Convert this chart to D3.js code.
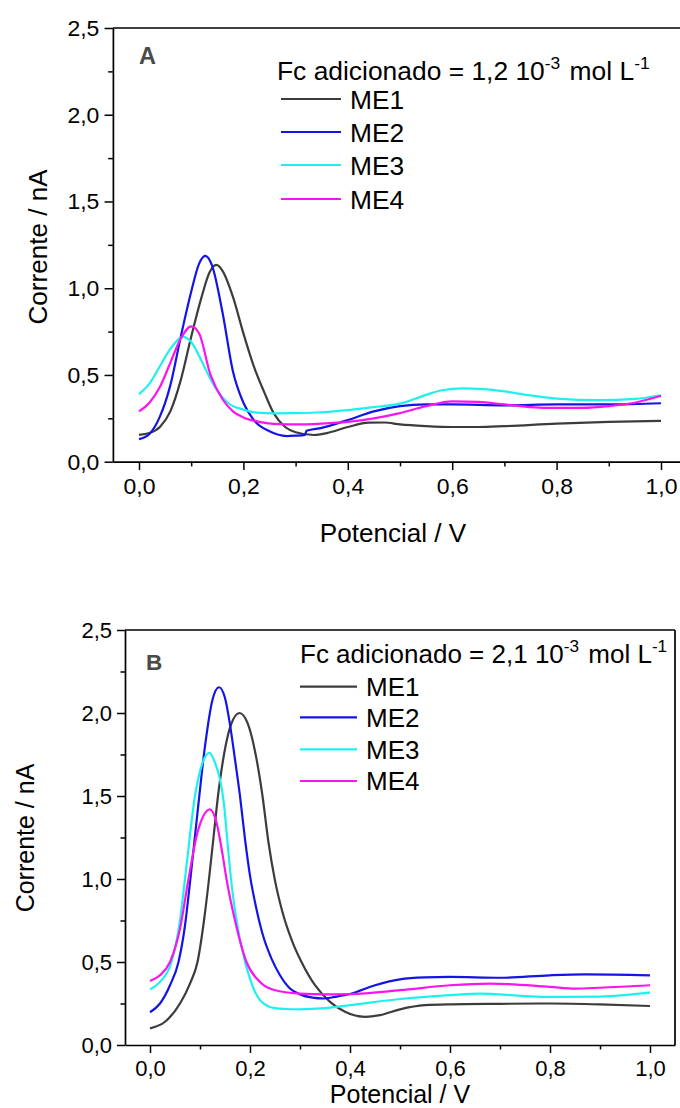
<!DOCTYPE html>
<html><head><meta charset="utf-8">
<script src="https://cdn.jsdelivr.net/npm/d3@7"></script>
<style>
body{margin:0;background:#fff}
svg{display:block}
text{font-family:"Liberation Sans",Arial,Helvetica,sans-serif;fill:#000}
</style>
</head><body>
<svg id="chart" width="680" height="1108"></svg>
<script>
// ---------------- data ----------------
const seriesNames = ["ME1", "ME2", "ME3", "ME4"];
const seriesColors = ["#3c3c3c", "#1414e6", "#1ef0f0", "#fa14f0"];
const xTickValues = [0, 0.2, 0.4, 0.6, 0.8, 1.0];
const xMinorTickValues = [0.1, 0.3, 0.5, 0.7, 0.9];
const yTickValues = [0, 0.5, 1.0, 1.5, 2.0, 2.5];
const yMinorTickValues = [0.25, 0.75, 1.25, 1.75, 2.25];
const panelLetters = ["A", "B"];
const concentrations = ["1,2", "2,1"];
const xTitle = "Potencial / V";
const yTitle = "Corrente / nA";

// Panel A: [potential V, current nA]
const A_ME1 = [[0,0.155],[0.02,0.165],[0.04,0.2],[0.06,0.29],[0.08,0.47],[0.1,0.72],[0.12,0.95],[0.135,1.09],[0.148,1.134],[0.16,1.1],[0.18,0.95],[0.2,0.74],[0.22,0.55],[0.24,0.4],[0.258,0.28],[0.28,0.2],[0.3,0.17],[0.335,0.154],[0.36,0.165],[0.4,0.2],[0.44,0.225],[0.47,0.226],[0.5,0.215],[0.55,0.205],[0.6,0.2],[0.65,0.2],[0.7,0.205],[0.8,0.22],[0.9,0.23],[1.0,0.235]];
const A_ME2 = [[0,0.13],[0.02,0.16],[0.04,0.26],[0.06,0.44],[0.08,0.72],[0.1,0.98],[0.115,1.14],[0.127,1.186],[0.14,1.13],[0.16,0.86],[0.18,0.52],[0.2,0.34],[0.22,0.24],[0.25,0.175],[0.283,0.148],[0.3,0.15],[0.318,0.155],[0.321,0.178],[0.35,0.195],[0.4,0.24],[0.45,0.29],[0.5,0.32],[0.55,0.33],[0.6,0.33],[0.7,0.325],[0.8,0.33],[0.9,0.33],[1.0,0.337]];
const A_ME3 = [[0,0.39],[0.02,0.45],[0.04,0.55],[0.06,0.65],[0.085,0.72],[0.1,0.69],[0.12,0.58],[0.133,0.5],[0.15,0.41],[0.17,0.34],[0.2,0.3],[0.22,0.285],[0.26,0.279],[0.3,0.28],[0.35,0.285],[0.386,0.294],[0.45,0.315],[0.5,0.335],[0.55,0.385],[0.58,0.412],[0.62,0.423],[0.66,0.418],[0.7,0.405],[0.75,0.382],[0.8,0.364],[0.88,0.355],[0.95,0.362],[1.0,0.383]];
const A_ME4 = [[0,0.29],[0.02,0.34],[0.04,0.43],[0.06,0.57],[0.08,0.71],[0.1,0.78],[0.115,0.74],[0.137,0.5],[0.16,0.36],[0.18,0.29],[0.2,0.255],[0.23,0.23],[0.27,0.217],[0.3,0.215],[0.35,0.22],[0.4,0.23],[0.45,0.25],[0.5,0.28],[0.55,0.32],[0.6,0.348],[0.65,0.345],[0.7,0.33],[0.75,0.315],[0.8,0.31],[0.85,0.31],[0.9,0.32],[0.95,0.34],[1.0,0.38]];

// Panel B
const B_ME1 = [[0,0.1],[0.03,0.14],[0.06,0.25],[0.08,0.37],[0.095,0.5],[0.108,0.75],[0.118,1.0],[0.127,1.25],[0.136,1.5],[0.148,1.75],[0.162,1.93],[0.179,2.0],[0.195,1.94],[0.21,1.77],[0.225,1.5],[0.237,1.22],[0.25,0.99],[0.265,0.8],[0.285,0.62],[0.303,0.5],[0.33,0.36],[0.36,0.26],[0.39,0.2],[0.43,0.17],[0.46,0.18],[0.5,0.215],[0.55,0.24],[0.6,0.245],[0.7,0.248],[0.8,0.25],[0.9,0.245],[1.0,0.235]];
const B_ME2 = [[0,0.197],[0.02,0.25],[0.04,0.36],[0.057,0.5],[0.07,0.72],[0.08,0.98],[0.095,1.4],[0.11,1.8],[0.125,2.08],[0.138,2.155],[0.15,2.09],[0.16,1.93],[0.17,1.72],[0.18,1.5],[0.19,1.24],[0.2,1.02],[0.21,0.86],[0.225,0.67],[0.243,0.52],[0.26,0.42],[0.28,0.34],[0.3,0.305],[0.325,0.285],[0.347,0.28],[0.37,0.29],[0.4,0.307],[0.45,0.36],[0.5,0.395],[0.55,0.407],[0.6,0.41],[0.7,0.405],[0.8,0.42],[0.87,0.425],[1.0,0.42]];
const B_ME3 = [[0,0.335],[0.02,0.38],[0.043,0.5],[0.06,0.75],[0.07,1.0],[0.09,1.5],[0.105,1.7],[0.119,1.76],[0.13,1.7],[0.14,1.6],[0.148,1.45],[0.155,1.22],[0.162,1.0],[0.172,0.77],[0.19,0.5],[0.2,0.4],[0.21,0.32],[0.22,0.27],[0.235,0.235],[0.25,0.222],[0.27,0.217],[0.3,0.215],[0.35,0.222],[0.4,0.24],[0.5,0.277],[0.6,0.3],[0.66,0.31],[0.75,0.295],[0.8,0.29],[0.9,0.292],[1.0,0.315]];
const B_ME4 = [[0,0.386],[0.02,0.42],[0.04,0.5],[0.06,0.7],[0.077,1.0],[0.095,1.28],[0.12,1.42],[0.133,1.34],[0.145,1.15],[0.153,1.0],[0.17,0.75],[0.193,0.5],[0.22,0.38],[0.25,0.33],[0.3,0.31],[0.35,0.305],[0.4,0.307],[0.5,0.33],[0.6,0.36],[0.68,0.37],[0.8,0.35],[0.85,0.34],[0.9,0.345],[1.0,0.36]];

const panelSeries = [[A_ME1, A_ME2, A_ME3, A_ME4], [B_ME1, B_ME2, B_ME3, B_ME4]];

// ---------------- layout ----------------
const panels = [
  {xr:[112.9, 687.1], yr:[461.7, 28], s:1.044, ylabX:47, ylabY:247, xlabX:393, xlabY:542,
   letterX:139, letterY:64, legX:277, legY:80, lineX1:281, lineX2:341, textX:350, rowY:[99,132,165,199], legFont:26.4, frameRight:false},
  {xr:[125, 675], yr:[1045, 630], s:1.0, ylabX:34, ylabY:838, xlabX:400, xlabY:1103,
   letterX:146, letterY:670, legX:300, legY:663, lineX1:300, lineX2:357, textX:366, rowY:[686.7,717.3,749.3,781], legFont:26, frameRight:true}
];

const svg = d3.select("#chart");
const fmt = d => d3.format(".1f")(d).replace(".", ",");

panels.forEach((P, pi) => {
  const s = P.s;
  const x = d3.scaleLinear().domain([-0.05, 1.05]).range(P.xr);
  const y = d3.scaleLinear().domain([0, 2.5]).range(P.yr);
  const g = svg.append("g");
  const tickFont = 22 * s;

  // bottom axis
  const bx = g.append("g").attr("transform", `translate(0,${P.yr[0]})`)
    .call(d3.axisBottom(x).tickValues(xTickValues).tickSize(8*s).tickSizeOuter(0).tickPadding(7.5*s).tickFormat(fmt));
  bx.append("g").call(d3.axisBottom(x).tickValues(xMinorTickValues).tickSize(4.5*s).tickSizeOuter(0).tickFormat(""))
    .select(".domain").remove();
  // left axis
  const ly = g.append("g").attr("transform", `translate(${P.xr[0]},0)`)
    .call(d3.axisLeft(y).tickValues(yTickValues).tickSize(8*s).tickSizeOuter(0).tickPadding(5*s).tickFormat(fmt));
  ly.append("g").call(d3.axisLeft(y).tickValues(yMinorTickValues).tickSize(4.5*s).tickSizeOuter(0).tickFormat(""))
    .select(".domain").remove();
  g.selectAll(".domain").attr("stroke", "#000").attr("stroke-width", 1.7);
  g.selectAll(".tick line").attr("stroke", "#000").attr("stroke-width", 1.5);
  g.selectAll(".tick text").attr("font-size", tickFont).attr("font-family", '"Liberation Sans",Arial,sans-serif').attr("fill", "#000");

  // frame top/right
  g.append("line").attr("x1", P.xr[0]).attr("x2", P.xr[1]).attr("y1", P.yr[1]).attr("y2", P.yr[1])
    .attr("stroke", "#000").attr("stroke-width", 1.7);
  if (P.frameRight) {
    g.append("line").attr("x1", P.xr[1]).attr("x2", P.xr[1]).attr("y1", P.yr[1]).attr("y2", P.yr[0])
      .attr("stroke", "#000").attr("stroke-width", 1.7);
  }

  // curves
  const line = d3.line().x(d => x(d[0])).y(d => y(d[1])).curve(d3.curveMonotoneX);
  panelSeries[pi].forEach((data, i) => {
    g.append("path").datum(data).attr("d", line).attr("fill", "none")
      .attr("stroke", seriesColors[i]).attr("stroke-width", 2.2).attr("stroke-linejoin", "round");
  });

  // axis titles
  g.append("text").attr("x", P.xlabX).attr("y", P.xlabY).attr("text-anchor", "middle")
    .attr("font-size", 25*s).text(xTitle);
  g.append("text").attr("transform", `translate(${P.ylabX},${P.ylabY}) rotate(-90)`).attr("text-anchor", "middle")
    .attr("font-size", 25*s).text(yTitle);

  // panel letter
  g.append("text").attr("x", P.letterX).attr("y", P.letterY).attr("font-size", 22.5*s)
    .attr("font-weight", "bold").style("fill", "#4a4a4a").text(panelLetters[pi]);

  // legend
  const legFont = P.legFont;
  const t = g.append("text").attr("x", P.legX).attr("y", P.legY).attr("font-size", legFont);
  t.append("tspan").text(`Fc adicionado = ${concentrations[pi]} 10`);
  t.append("tspan").attr("dy", -legFont*0.42).attr("font-size", legFont*0.66).text("-3");
  t.append("tspan").attr("dy", legFont*0.42).attr("dx", 2).text(" mol L");
  t.append("tspan").attr("dy", -legFont*0.42).attr("font-size", legFont*0.66).text("-1");

  seriesNames.forEach((name, i) => {
    const ry = P.rowY[i];
    g.append("line").attr("x1", P.lineX1).attr("x2", P.lineX2).attr("y1", ry).attr("y2", ry)
      .attr("stroke", seriesColors[i]).attr("stroke-width", 2.2);
    g.append("text").attr("x", P.textX).attr("y", ry + legFont*0.36).attr("font-size", legFont).text(name);
  });
});
</script>
</body></html>
